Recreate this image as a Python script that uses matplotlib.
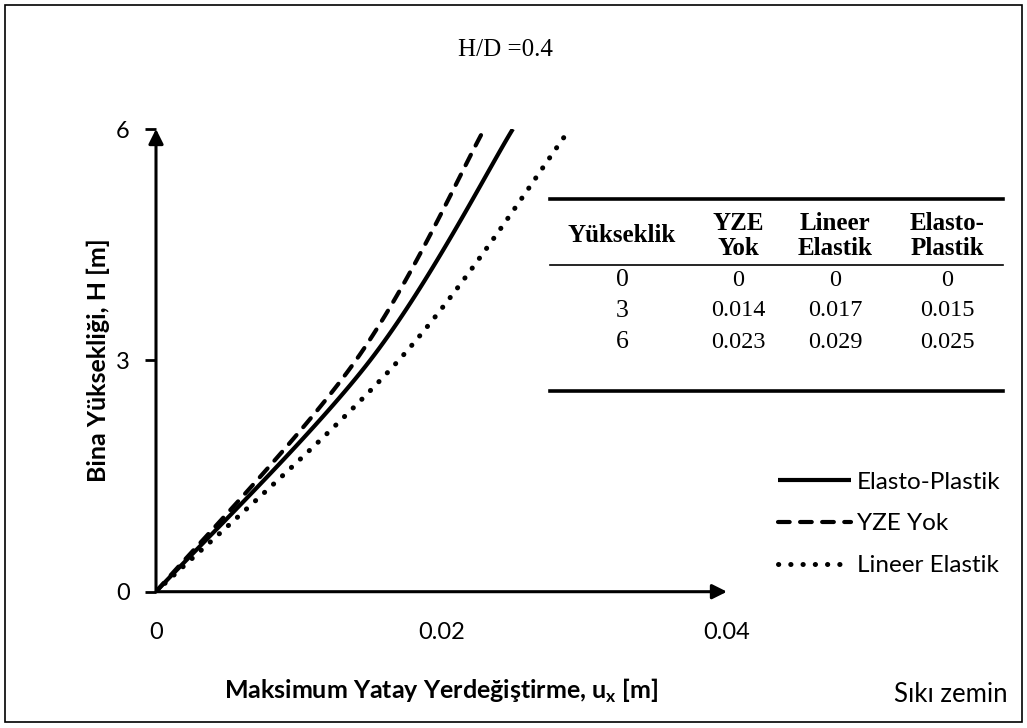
import numpy as np
import matplotlib
matplotlib.use('Agg')
import matplotlib.pyplot as plt
from matplotlib.lines import Line2D
from matplotlib.patches import Rectangle

# ---------- Veriler ----------
heights = [0, 3, 6]
yze_yok = [0, 0.014, 0.023]
lineer_elastik = [0, 0.017, 0.029]
elasto_plastik = [0, 0.015, 0.025]

x_ticks = [0, 0.02, 0.04]
x_tick_labels = ["0", "0.02", "0.04"]
y_ticks = [0, 3, 6]

table_header = ["Yükseklik", "YZE\nYok", "Lineer\nElastik", "Elasto-\nPlastik"]

W, H = 1027, 728
SANS = "Lato"
SERIF = "Liberation Serif"

plt.rcParams['font.family'] = [SANS, 'DejaVu Sans']
plt.rcParams['mathtext.fontset'] = 'custom'
plt.rcParams['mathtext.rm'] = SANS + ':bold'


def fx(px):
    return px / W


def fy(py):
    return 1 - py / H


def smooth_curve(x, y, n=40):
    # egri: noktalardan gecen Bezier parcalari (1/6 gerilimli)
    p = np.column_stack([x, y]).astype(float)
    ext = np.vstack([p[0], p, p[-1]])
    t = np.linspace(0, 1, n)[:, None]
    parts = []
    for i in range(len(p) - 1):
        p0, p3 = ext[i + 1], ext[i + 2]
        c1 = p0 + (ext[i + 2] - ext[i]) / 6.0
        c2 = p3 - (ext[i + 3] - ext[i + 1]) / 6.0
        seg = (1 - t) ** 3 * p0 + 3 * (1 - t) ** 2 * t * c1 + 3 * (1 - t) * t ** 2 * c2 + t ** 3 * p3
        parts.append(seg if i == 0 else seg[1:])
    s = np.vstack(parts)
    return s[:, 0], s[:, 1]


fig = plt.figure(figsize=(W / 100, H / 100), dpi=100)
fig.patches.append(Rectangle((fx(5), fy(722)), fx(1022) - fx(5), fy(5) - fy(722),
                             transform=fig.transFigure, fill=False, lw=1.2, ec='black'))

x0, x1, y0, y1 = 156, 727, 591.7, 129
ax = fig.add_axes([fx(x0), fy(y0), fx(x1) - fx(x0), fy(y1) - fy(y0)])
ax.set_xlim(0, 0.04)
ax.set_ylim(0, 6)
for s in ax.spines.values():
    s.set_visible(False)

# eksen oklari
arrow = dict(arrowstyle='-|>', lw=2.2, color='black', mutation_scale=22, shrinkA=0, shrinkB=0)
ax.annotate('', xy=(1, 0), xytext=(0, 0), xycoords='axes fraction', arrowprops=arrow)
ax.annotate('', xy=(0, 1), xytext=(0, 0), xycoords='axes fraction', arrowprops=arrow)

ax.set_xticks(x_ticks)
ax.set_xticklabels(x_tick_labels)
ax.set_yticks(y_ticks)
ax.tick_params(axis='x', length=0, pad=22, labelsize=17)
ax.tick_params(axis='y', length=8, width=2, pad=11, labelsize=17)

xs, ys = smooth_curve(elasto_plastik, heights)
ax.plot(xs, ys, color='black', lw=3.0, solid_capstyle='butt', label='Elasto-Plastik')
xs, ys = smooth_curve(yze_yok, heights)
ax.plot(xs, ys, color='black', lw=3.0, linestyle=(0, (2.8, 2.5)), dash_capstyle='round', label='YZE Yok')
xs, ys = smooth_curve(lineer_elastik, heights)
ax.plot(xs, ys, color='black', lw=3.6, linestyle=(0, (0.05, 2.4)), dash_capstyle='round', label='Lineer Elastik')

ax.set_xlabel(r"Maksimum Yatay Yerdeğiştirme, u$_\mathrm{x}$ [m]", fontsize=18, fontweight='bold', labelpad=24)
ax.set_ylabel("Bina Yüksekliği, H [m]", fontsize=18, fontweight='bold', labelpad=4)

fig.text(fx(505), fy(50), "H/D =0.4", family=SERIF, fontsize=18, ha='center', va='center')
fig.text(fx(1008), fy(694), "Sıkı zemin", fontsize=18.5, ha='right', va='center')

# lejant
handles, labels = ax.get_legend_handles_labels()
fig.legend(handles, labels, loc='upper left', bbox_to_anchor=(fx(768), fy(462)), frameon=False,
           fontsize=17.5, handlelength=3.0, handletextpad=0.25, labelspacing=0.85, borderaxespad=0)

# tablo
tl, tr = 550, 1003
fig.add_artist(Line2D([fx(tl), fx(tr)], [fy(199), fy(199)], lw=2.6, color='black'))
fig.add_artist(Line2D([fx(tl), fx(tr)], [fy(265), fy(265)], lw=1.2, color='black'))
fig.add_artist(Line2D([fx(tl), fx(tr)], [fy(391), fy(391)], lw=2.6, color='black'))

col_x = [622, 738, 835, 947]
for cx, head in zip(col_x, table_header):
    fig.text(fx(cx), fy(236), head, family=SERIF, fontweight='bold', fontsize=18,
             ha='center', va='center', linespacing=1.1)

cols = [heights, yze_yok, lineer_elastik, elasto_plastik]
row_y = [280, 311, 342]
for r, ry in enumerate(row_y):
    for c, cx in enumerate(col_x):
        v = cols[c][r]
        txt = "0" if v == 0 else (str(v) if c == 0 else f"{v:.3f}")
        fig.text(fx(cx), fy(ry), txt, family=SERIF, fontsize=18.5 if c == 0 else 17.5,
                 ha='center', va='center')

fig.savefig("out.png", dpi=100)
